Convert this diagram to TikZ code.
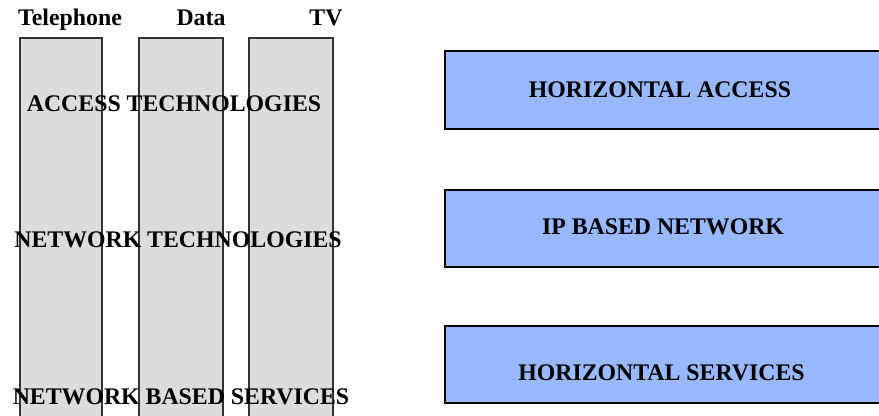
\documentclass[tikz,border=0pt]{standalone}
\usepackage{fontspec}
\setmainfont{Liberation Serif}
\usepackage{xcolor}

\definecolor{columngray}{HTML}{DCDCDC}
\definecolor{layerblue}{HTML}{98B8FF}

\tikzset{
  column/.style={draw=black!80, fill=columngray, line width=0.6pt},
  layer/.style={draw=black, fill=layerblue, line width=0.7pt},
  label/.style={anchor=base, inner sep=0pt, font=\fontsize{11.9}{14}\selectfont\bfseries}
}

\begin{document}
\begin{tikzpicture}[x=0.5pt, y=0.5pt]

\useasboundingbox (0,0) rectangle (879,416);
\clip (0,0) rectangle (879,416);

% Vertical service columns
\draw[column] (20,378) rectangle (102,-10);
\draw[column] (139,378) rectangle (223,-10);
\draw[column] (249,378) rectangle (333,-10);

\node[label] (telephone) at (70,390) {Telephone};
\node[label] (data) at (201,390) {Data};
\node[label] (tv) at (326,390) {TV};

\node[label] (accesstech) at (174,304) {ACCESS TECHNOLOGIES};
\node[label] (networktech) at (178,168) {NETWORK TECHNOLOGIES};
\node[label] (networkserv) at (181,11) {NETWORK BASED SERVICES};

% Horizontal layers
\draw[layer] (445,365) rectangle (890,287);
\draw[layer] (445,226) rectangle (890,149);
\draw[layer] (445,90) rectangle (890,13);

\node[label] (horaccess) at (660,318.5) {HORIZONTAL ACCESS};
\node[label] (ipnet) at (663,181) {IP BASED NETWORK};
\node[label] (horserv) at (661.5,35) {HORIZONTAL SERVICES};

\end{tikzpicture}
\end{document}
